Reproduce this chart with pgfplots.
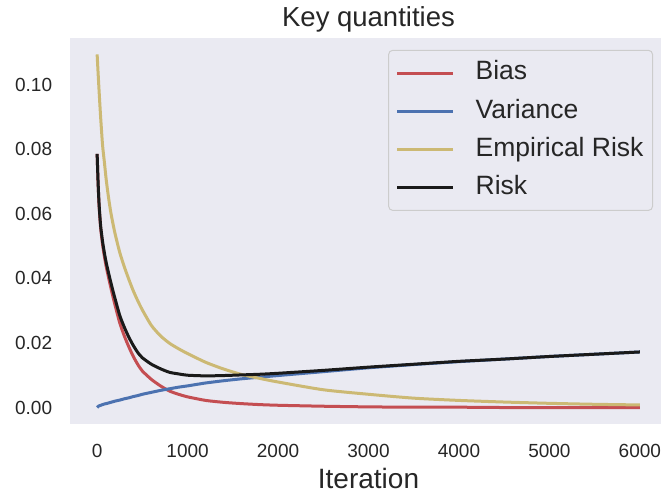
\documentclass[border=0pt]{standalone}
\usepackage{pgfplots}
\usepackage{pgfplotstable}
\pgfplotsset{compat=1.18}
\usepackage{fontspec}
\setmainfont{Liberation Sans}
\definecolor{bg}{HTML}{EAEAF2}
\definecolor{txt}{HTML}{262626}
\definecolor{cbias}{HTML}{C44E52}
\definecolor{cvar}{HTML}{4C72B0}
\definecolor{cemp}{HTML}{CCB974}
\definecolor{crisk}{HTML}{1A1A1A}
\definecolor{legb}{HTML}{CCCCCC}

\pgfplotstableread{
it bias var emp risk
0 0.0785 0.0000 0.1093 0.0785
10 0.0698 0.0003 0.1039 0.0701
20 0.0632 0.0005 0.0988 0.0637
30 0.0588 0.0006 0.0939 0.0594
40 0.0552 0.0007 0.0893 0.0559
60 0.0505 0.0009 0.0812 0.0514
80 0.0468 0.0011 0.0760 0.0479
100 0.0437 0.0012 0.0706 0.0449
125 0.0404 0.0014 0.0652 0.0418
150 0.0373 0.0016 0.0606 0.0389
175 0.0343 0.0018 0.0569 0.0361
200 0.0315 0.0020 0.0536 0.0335
250 0.0262 0.0023 0.0480 0.0285
300 0.0222 0.0027 0.0436 0.0249
350 0.0188 0.0030 0.0397 0.0218
400 0.0158 0.0034 0.0361 0.0192
450 0.0133 0.0037 0.0330 0.0170
500 0.0113 0.0041 0.0302 0.0154
600 0.0087 0.0047 0.0254 0.0134
700 0.0067 0.0053 0.0222 0.0120
800 0.0051 0.0058 0.0199 0.0109
900 0.0041 0.0063 0.0182 0.0104
1000 0.0033 0.0067 0.0167 0.0100
1200 0.0022 0.0076 0.0140 0.0098
1400 0.0016 0.0083 0.0119 0.0099
1600 0.0012 0.0089 0.0102 0.0101
1800 0.0009 0.0094 0.0090 0.0103
2000 0.0007 0.0099 0.0079 0.0106
2500 0.0004 0.0111 0.0055 0.0115
3000 0.0002 0.0123 0.0041 0.0125
3500 0.0001 0.0133 0.0029 0.0134
4000 0.0001 0.0142 0.0022 0.0143
4500 0.0000 0.0150 0.0017 0.0150
5000 0.0000 0.0158 0.0013 0.0158
5500 0.0000 0.0165 0.0010 0.0165
6000 0.0000 0.0172 0.0008 0.0172
}\data

\begin{document}
\begin{tikzpicture}
\begin{axis}[
  scale only axis, width=597pt, height=385.7pt,
  xmin=-300, xmax=6300, ymin=-0.0051, ymax=0.1143,
  axis background/.style={fill=bg},
  axis line style={draw=none},
  major tick length=0pt,
  xtick={0,1000,2000,3000,4000,5000,6000},
  ytick={0,0.02,0.04,0.06,0.08,0.1},
  scaled y ticks=false,
  /pgf/number format/assume math mode=true,
  x tick label style={/pgf/number format/1000 sep={}},
  y tick label style={/pgf/number format/fixed, /pgf/number format/fixed zerofill, /pgf/number format/precision=2},
  tick label style={font=\fontsize{19}{23}\selectfont, text=txt, inner sep=0pt},
  xticklabel style={anchor=base, yshift=-33.3pt},
  yticklabel style={anchor=east, xshift=-17.7pt},
  title={Key quantities},
  title style={at={(0.5,1)}, anchor=base, yshift=5.3pt, inner sep=0pt, font=\fontsize{27.5}{33}\selectfont, text=txt},
  xlabel={Iteration},
  xlabel style={at={(0.5,0)}, anchor=base, yshift=-64.3pt, inner sep=0pt, font=\fontsize{28}{33}\selectfont, text=txt},
  legend cell align=left,
  legend image code/.code={\draw[#1] (0pt,0pt) -- (56pt,0pt);},
  legend style={at={(0.9766,0.970)}, anchor=north east, fill=bg, draw=legb, line width=1pt, rounded corners=4pt,
    font=\fontsize{26.5}{31}\selectfont, text=txt, inner xsep=7pt, inner ysep=8.6pt, row sep=9.6pt, column sep=19pt,
    nodes={inner sep=2pt, text height=19pt, text depth=5.5pt}},
  every axis plot/.append style={line width=3pt, line join=round, smooth, tension=0.4},
]
\addplot[cbias] table[x=it, y=bias] {\data};
\addlegendentry{Bias}
\addplot[cvar] table[x=it, y=var] {\data};
\addlegendentry{Variance}
\addplot[cemp] table[x=it, y=emp] {\data};
\addlegendentry{Empirical Risk}
\addplot[crisk] table[x=it, y=risk] {\data};
\addlegendentry{Risk}
\end{axis}
\pgfresetboundingbox
\path[use as bounding box] (-70pt,-71pt) rectangle (591pt,424pt);
\end{tikzpicture}
\end{document}
